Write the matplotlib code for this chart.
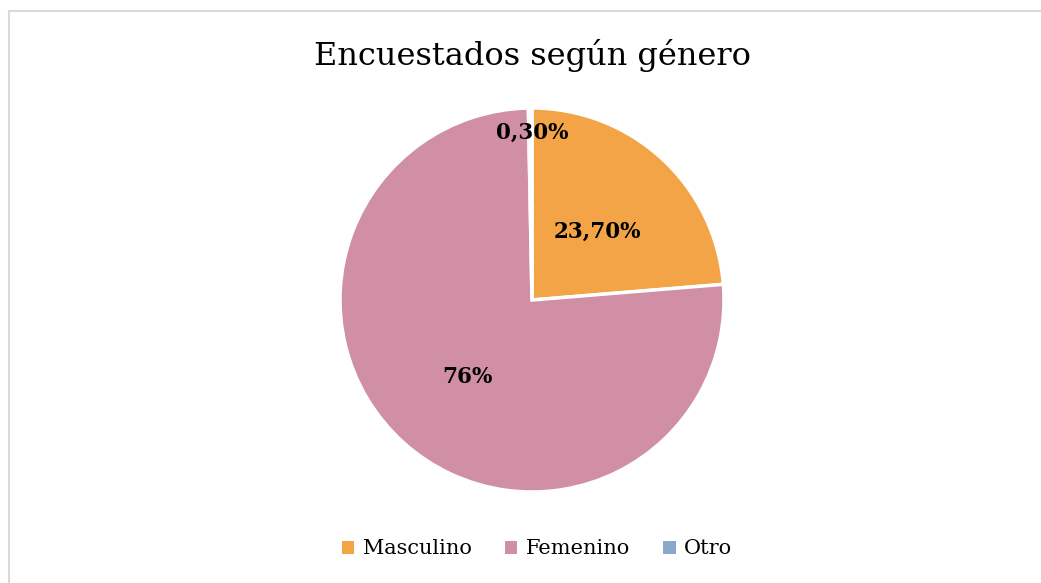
import matplotlib
matplotlib.use("Agg")
import matplotlib.pyplot as plt
from matplotlib.lines import Line2D
from matplotlib.patches import Patch

# datos del grafico
categorias = ["Masculino", "Femenino", "Otro"]
porcentajes = [23.7, 76.0, 0.3]
etiquetas = ["23,70%", "76%", "0,30%"]
colores = ["#F2A446", "#D08FA5", "#8AA8CC"]

W, H, DPI = 1041, 583, 100
fig = plt.figure(figsize=(W / DPI, H / DPI), dpi=DPI)
fig.patch.set_facecolor("white")

# marco del grafico (solo se ven los bordes superior e izquierdo)
borde = "#D9D9D9"
fig.add_artist(Line2D([8.5 / W, 8.5 / W], [0, 1 - 10.5 / H],
                      color=borde, lw=1.5, transform=fig.transFigure))
fig.add_artist(Line2D([8.5 / W, 1], [1 - 10.5 / H, 1 - 10.5 / H],
                      color=borde, lw=1.5, transform=fig.transFigure))

# ejes del pastel: centro (532, 300) px, radio 192 px
cx, cy, r = 532, 300, 192
ax = fig.add_axes([(cx - r) / W, (H - cy - r) / H, 2 * r / W, 2 * r / H])
wedges, _ = ax.pie(porcentajes, colors=colores, startangle=90,
                   counterclock=False, radius=1.0,
                   wedgeprops=dict(edgecolor="white", linewidth=2.5))
ax.set_xlim(-1, 1)
ax.set_ylim(-1, 1)
ax.set_aspect("equal")
ax.set_axis_off()

# etiquetas de datos (posiciones en px de la figura)
pos_etq = [(597, 232), (467, 377), (532, 133)]
for (px, py), txt in zip(pos_etq, etiquetas):
    fig.text(px / W, 1 - py / H, txt, ha="center", va="center",
             fontsize=15.5, fontweight="bold", family="DejaVu Serif",
             color="black")

fig.text(532 / W, 1 - 56 / H, "Encuestados según género", ha="center",
         va="center", fontsize=23, family="DejaVu Serif", color="black")

handles = [Patch(facecolor=c, edgecolor="none") for c in colores]
fig.legend(handles, categorias, loc="center", bbox_to_anchor=(537 / W, 1 - 549 / H),
           ncol=3, frameon=False, handlelength=0.6, handleheight=0.6,
           handletextpad=0.4, columnspacing=1.6,
           prop={"family": "DejaVu Serif", "size": 15})

fig.savefig("out.png", dpi=DPI)
